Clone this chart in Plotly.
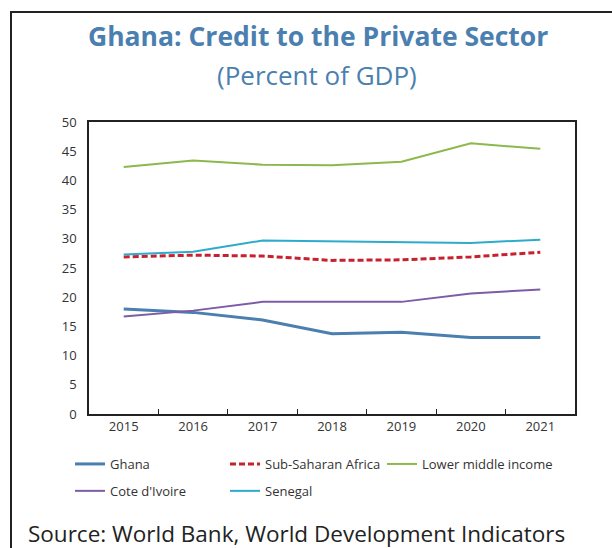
import plotly.graph_objects as go

years = ["2015", "2016", "2017", "2018", "2019", "2020", "2021"]
ghana = [18.0, 17.4, 16.1, 13.75, 14.0, 13.1, 13.1]
ssa = [26.9, 27.2, 27.05, 26.3, 26.4, 26.9, 27.7]
lower_middle = [42.3, 43.4, 42.7, 42.6, 43.2, 46.35, 45.4]
cote_divoire = [16.7, 17.7, 19.2, 19.25, 19.2, 20.65, 21.3]
senegal = [27.3, 27.8, 29.7, 29.6, 29.5, 29.3, 29.85]

FONT = "Open Sans"
fig = go.Figure()

# (name, values, colour, width, dash, legend column)
series = [
    ("Ghana", ghana, "#4a7fb0", 3, "solid", "legend"),
    ("Sub-Saharan Africa", ssa, "#c8202e", 3, "6px,3px", "legend2"),
    ("Lower middle income", lower_middle, "#8cb84c", 2, "solid", "legend3"),
    ("Cote d'Ivoire", cote_divoire, "#7d5ca6", 2, "solid", "legend"),
    ("Senegal", senegal, "#2eaacb", 2, "solid", "legend2"),
]
for name, vals, color, w, dash, leg in series:
    fig.add_trace(go.Scatter(
        x=years, y=vals, name=name, mode="lines",
        line=dict(color=color, width=w, dash=dash),
        legend=leg, legendgroup=name,
    ))

W, H = 612, 548
L, R, T, B = 89, 37, 122, 134
pw, ph = W - L - R, H - T - B


def px_x(p):
    return (p - L) / pw


def px_y(p):
    return (H - B - p) / ph


def legend_column(x_px):
    return dict(
        orientation="v", x=px_x(x_px), y=px_y(449),
        xanchor="left", yanchor="top",
        font=dict(size=13, color="#333333"),
        itemwidth=30, tracegroupgap=7, traceorder="grouped",
        bgcolor="rgba(0,0,0,0)",
    )


fig.update_layout(
    width=W, height=H,
    margin=dict(l=L, r=R, t=T, b=B),
    paper_bgcolor="white", plot_bgcolor="white",
    font=dict(family=FONT, color="#333333", size=13),
    showlegend=True,
    legend=legend_column(70),
    legend2=legend_column(225),
    legend3=legend_column(382),
    xaxis=dict(
        type="category", range=[-0.5, 6.5],
        showline=True, linecolor="#222222", linewidth=1.5, mirror=True,
        ticks="inside", tickson="boundaries", ticklen=5, tickcolor="#222222",
        showgrid=False, tickfont=dict(size=13, color="#333333"),
    ),
    yaxis=dict(
        range=[0, 50], dtick=5,
        showline=True, linecolor="#222222", linewidth=1.5, mirror=True,
        ticks="", showgrid=False, zeroline=False,
        tickfont=dict(size=13, color="#333333"), ticklabelstandoff=8,
    ),
    annotations=[
        dict(text="<b>Ghana: Credit to the Private Sector</b>",
             x=px_x(318), y=px_y(36), xref="paper", yref="paper",
             showarrow=False, xanchor="center", yanchor="middle",
             font=dict(family=FONT, size=26.5, color="#4a7fb0")),
        dict(text="(Percent of GDP)",
             x=px_x(317), y=px_y(75), xref="paper", yref="paper",
             showarrow=False, xanchor="center", yanchor="middle",
             font=dict(family=FONT, size=26, color="#4a7fb0")),
        dict(text="Source: World Bank, World Development Indicators",
             x=px_x(26), y=px_y(533), xref="paper", yref="paper",
             showarrow=False, xanchor="left", yanchor="middle",
             font=dict(family=FONT, size=22.5, color="#222222")),
    ],
    shapes=[
        dict(type="line", xref="paper", yref="paper",
             x0=px_x(11), x1=px_x(11), y0=px_y(11), y1=px_y(560),
             line=dict(color="#222222", width=2)),
        dict(type="line", xref="paper", yref="paper",
             x0=px_x(10), x1=px_x(620), y0=px_y(12), y1=px_y(12),
             line=dict(color="#222222", width=2)),
    ],
)

fig.write_html("out.html")
